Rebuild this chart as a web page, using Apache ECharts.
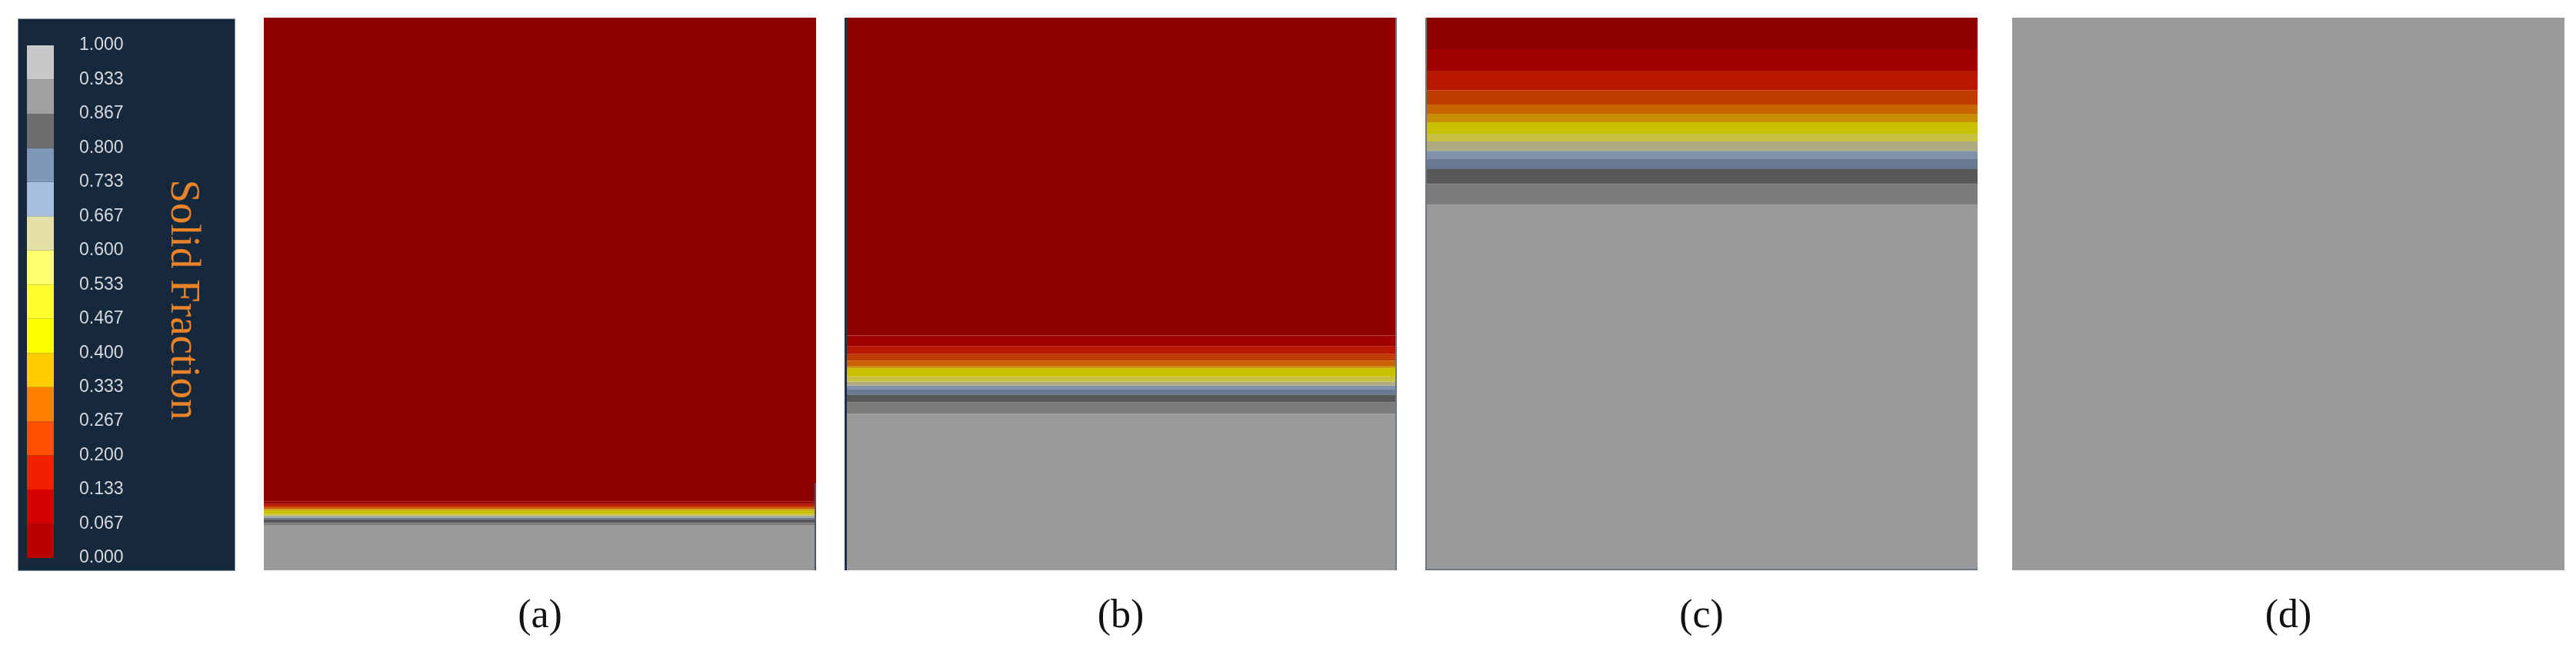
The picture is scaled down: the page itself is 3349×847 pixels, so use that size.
<!DOCTYPE html>
<html>
<head>
<meta charset="utf-8">
<title>Solid Fraction</title>
<script src="https://cdn.jsdelivr.net/npm/echarts@6/dist/echarts.min.js"></script>
<style>
    html, body { margin: 0; padding: 0; background: #fff; }
    #chartMain { width: 3349px; height: 847px; }
</style>
</head>
<body>
<div id="chartMain"></div>
<script>
    // colour bar of the legend, bottom (0.000) to top (1.000)
    const legendTicks = ['0.000', '0.067', '0.133', '0.200', '0.267', '0.333', '0.400', '0.467',
        '0.533', '0.600', '0.667', '0.733', '0.800', '0.867', '0.933', '1.000'];
    const legendColors = ['#b80000', '#d50000', '#f22000', '#ff5000', '#ff8000', '#ffcc00', '#ffff00',
        '#ffff30', '#ffff70', '#e4e0a8', '#a8c0e0', '#8098b8', '#6e6e6e', '#a0a0a0', '#c8c8c8'];

    const panelNames = ['(a)', '(b)', '(c)', '(d)'];

    // colours shown in the panels, solid (bottom) to liquid (top)
    const bandColors = ['#9a9a9a', '#7c7c7c', '#585858', '#687890', '#8090a8', '#b0aa80', '#c8c040',
        '#c8c000', '#c88c00', '#c86400', '#c03c00', '#b81800', '#a00000', '#8e0000'];

    // heights of the contour lines between bands, % of the panel height from the bottom
    const contourA = [8.2, 8.6, 9.3, 9.5, 9.7, 9.9, 10.2, 10.9, 11.1, 11.4, 11.7, 12.0, 12.4];
    const contourB = [28.3, 30.4, 31.8, 32.7, 33.4, 34.1, 35.1, 36.6, 36.9, 37.9, 39.1, 40.5, 42.5];
    const contourC = [66.2, 69.9, 72.6, 74.4, 75.9, 77.6, 79.0, 81.1, 82.6, 84.3, 86.9, 90.4, 94.3];
    const contourD = [100, 100, 100, 100, 100, 100, 100, 100, 100, 100, 100, 100, 100];
    const contours = [contourA, contourB, contourC, contourD];

    const panelLeft = [343, 1098, 1853, 2616];
    const panelWidth = 718;
    const panelTop = 23;
    const panelHeight = 719;

    let myChart = echarts.init(document.getElementById('chartMain'));

    let grids = [];
    let xAxes = [];
    let yAxes = [];
    let series = [];
    let graphics = [];

    // legend colour bar
    grids.push({ left: 35, top: 59, width: 35, height: 667 });
    xAxes.push({ type: 'category', data: ['fs'], gridIndex: 0, show: false });
    yAxes.push({
        type: 'value', gridIndex: 0, min: 0, max: 15, interval: 1, position: 'right',
        axisLine: { show: false }, axisTick: { show: false }, splitLine: { show: false },
        axisLabel: {
            formatter: (v) => legendTicks[v],
            color: '#d6dadf',
            fontFamily: 'Liberation Sans',
            fontSize: 23,
            margin: 33,
            align: 'left',
            padding: [0, 0, 16, 0]
        }
    });
    legendColors.forEach((c, i) => {
        series.push({
            type: 'bar', xAxisIndex: 0, yAxisIndex: 0, stack: 'legend',
            barWidth: '100%', silent: true,
            itemStyle: { color: c },
            data: [1]
        });
    });

    // the four panels
    contours.forEach((cs, p) => {
        let g = p + 1;
        grids.push({ left: panelLeft[p], top: panelTop, width: panelWidth, height: panelHeight });
        xAxes.push({ type: 'category', data: [panelNames[p]], gridIndex: g, show: false });
        yAxes.push({ type: 'value', gridIndex: g, min: 0, max: 100, show: false });
        let edges = [0].concat(cs, [100]);
        bandColors.forEach((c, b) => {
            series.push({
                type: 'bar', xAxisIndex: g, yAxisIndex: g, stack: 'panel' + p,
                barWidth: '100%', silent: true,
                itemStyle: { color: c },
                data: [edges[b + 1] - edges[b]]
            });
        });
        graphics.push({
            type: 'text', x: panelLeft[p] + panelWidth / 2, y: 802,
            style: {
                text: panelNames[p], fill: '#111', font: '52px "Liberation Serif"',
                textAlign: 'center', textVerticalAlign: 'middle'
            }
        });
    });

    // legend box behind the colour bar
    graphics.unshift({
        type: 'rect', z: -1,
        shape: { x: 23.5, y: 24.5, width: 282, height: 718 },
        style: { fill: '#16283c', stroke: '#8a96a4', lineWidth: 1 }
    });
    graphics.push({
        type: 'text', x: 237, y: 390, rotation: -Math.PI / 2,
        style: {
            text: 'Solid Fraction', fill: '#e8832a', font: '55px "Liberation Serif"',
            textAlign: 'center', textVerticalAlign: 'middle'
        }
    });

    // thin frame edges left by the original renderer
    graphics.push(
        { type: 'line', z: 10, shape: { x1: 1099.5, y1: 23, x2: 1099.5, y2: 742 }, style: { stroke: '#1e3048', lineWidth: 3 } },
        { type: 'line', z: 10, shape: { x1: 1815, y1: 23, x2: 1815, y2: 742 }, style: { stroke: '#6e7680', lineWidth: 2 } },
        { type: 'line', z: 10, shape: { x1: 1854, y1: 23, x2: 1854, y2: 741 }, style: { stroke: '#6e7680', lineWidth: 2 } },
        { type: 'line', z: 10, shape: { x1: 1853, y1: 741, x2: 2571, y2: 741 }, style: { stroke: '#6e7680', lineWidth: 2 } },
        { type: 'line', z: 10, shape: { x1: 1060, y1: 628, x2: 1060, y2: 742 }, style: { stroke: '#4a5668', lineWidth: 2 } }
    );

    myChart.setOption({
        backgroundColor: '#ffffff',
        animation: false,
        grid: grids,
        xAxis: xAxes,
        yAxis: yAxes,
        series: series,
        graphic: { elements: graphics }
    });
</script>
</body>
</html>
